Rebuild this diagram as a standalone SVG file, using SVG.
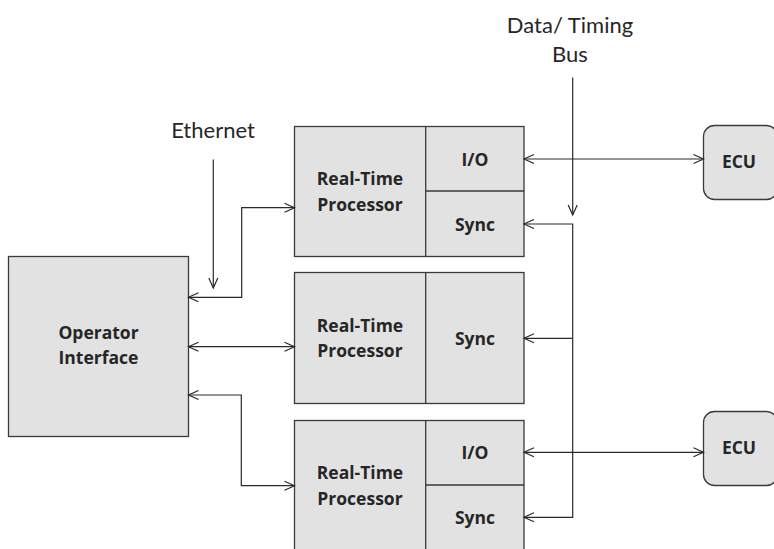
<svg xmlns="http://www.w3.org/2000/svg" width="774" height="549" viewBox="0 0 774 549">
  <style>
    .box { fill: #e2e2e2; stroke: #3a3a3a; stroke-width: 1.3; }
    .div { fill: none; stroke: #3a3a3a; stroke-width: 1.3; }
    .wire { fill: none; stroke: #2a2a2a; stroke-width: 1.2; }
    .lbl { font-family: "Open Sans", Lato, sans-serif; font-weight: bold; font-size: 17.5px; fill: #262626; text-anchor: middle; }
    .cap { font-family: Lato, "Open Sans", sans-serif; font-size: 22px; fill: #262626; text-anchor: middle; }
  </style>
  <defs>
    <marker id="arr" markerUnits="userSpaceOnUse" markerWidth="14" markerHeight="12" refX="11" refY="6" orient="auto-start-reverse">
      <polyline points="1,1.5 11,6 1,10.5" fill="none" stroke="#2a2a2a" stroke-width="1.2"/>
    </marker>
  </defs>

  <!-- captions -->
  <text class="cap" x="213" y="138">Ethernet</text>
  <text class="cap" x="570" y="33">Data/ Timing</text>
  <text class="cap" x="570" y="62">Bus</text>

  <!-- operator interface -->
  <g id="operator">
    <rect class="box" x="8.5" y="256.5" width="180" height="180"/>
    <text class="lbl" x="98.5" y="339">Operator</text>
    <text class="lbl" x="98.5" y="364">Interface</text>
  </g>

  <!-- real-time processor 1 -->
  <g id="rtp1">
    <rect class="box" x="294.5" y="126.5" width="229.5" height="130"/>
    <path class="div" d="M425.7 126.5 V256.5 M425.7 191 H524"/>
    <text class="lbl" x="360" y="185">Real-Time</text>
    <text class="lbl" x="360" y="211">Processor</text>
    <text class="lbl" x="475" y="165.5">I/O</text>
    <text class="lbl" x="475" y="230.5">Sync</text>
  </g>

  <!-- real-time processor 2 -->
  <g id="rtp2">
    <rect class="box" x="294.5" y="272.5" width="229.5" height="131"/>
    <path class="div" d="M425.7 272.5 V403.5"/>
    <text class="lbl" x="360" y="331.5">Real-Time</text>
    <text class="lbl" x="360" y="357">Processor</text>
    <text class="lbl" x="475" y="345">Sync</text>
  </g>

  <!-- real-time processor 3 -->
  <g id="rtp3">
    <rect class="box" x="294.5" y="420.5" width="229.5" height="140"/>
    <path class="div" d="M425.7 420.5 V560 M425.7 485 H524"/>
    <text class="lbl" x="360" y="479">Real-Time</text>
    <text class="lbl" x="360" y="505">Processor</text>
    <text class="lbl" x="475" y="459">I/O</text>
    <text class="lbl" x="475" y="524">Sync</text>
  </g>

  <!-- ECUs -->
  <g id="ecu1">
    <rect class="box" x="703.5" y="125.5" width="74" height="74" rx="11"/>
    <text class="lbl" x="739" y="168">ECU</text>
  </g>
  <g id="ecu2">
    <rect class="box" x="703.5" y="411.5" width="74" height="74" rx="11"/>
    <text class="lbl" x="739" y="454">ECU</text>
  </g>

  <!-- connectors -->
  <g id="connectors">
    <path class="wire" d="M213.3 159.5 V288" marker-end="url(#arr)"/>
    <path class="wire" d="M572.7 77.5 V215" marker-end="url(#arr)"/>
    <path class="wire" d="M294.5 207.7 H241.7 V297.3 H188.5" marker-start="url(#arr)" marker-end="url(#arr)"/>
    <path class="wire" d="M188.5 346.7 H294.5" marker-start="url(#arr)" marker-end="url(#arr)"/>
    <path class="wire" d="M188.5 395 H241.3 V485.7 H294.5" marker-start="url(#arr)" marker-end="url(#arr)"/>
    <path class="wire" d="M524 159 H703.5" marker-start="url(#arr)" marker-end="url(#arr)"/>
    <path class="wire" d="M524 452.3 H703.5" marker-start="url(#arr)" marker-end="url(#arr)"/>
    <path class="wire" d="M524 224 H572.7 V517.3 H524" marker-start="url(#arr)" marker-end="url(#arr)"/>
    <path class="wire" d="M572.7 338.3 H524" marker-end="url(#arr)"/>
  </g>
</svg>
